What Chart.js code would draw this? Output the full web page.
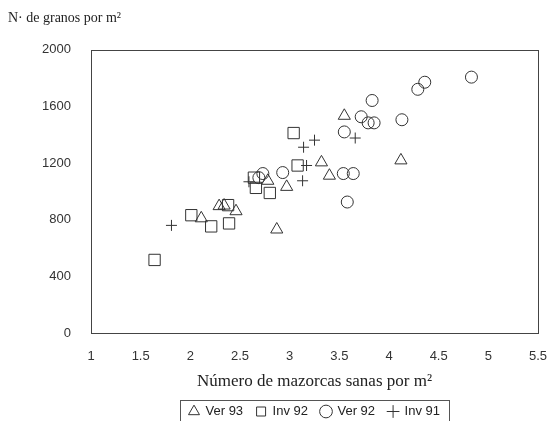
<!DOCTYPE html>
<html>
<head>
<meta charset="utf-8">
<script src="https://cdn.jsdelivr.net/npm/chart.js@4/dist/chart.umd.min.js"></script>
<style>
html,body{margin:0;padding:0;background:#fff;}
#wrap{width:549px;height:421px;}
</style>
</head>
<body>
<div id="wrap"><canvas id="c" width="549" height="421"></canvas></div>
<script>
// Data
const ver93X = [3.55, 4.12, 3.32, 3.40, 2.97, 2.78, 2.29, 2.34, 2.46, 2.87, 2.11];
const ver93Y = [1534, 1219, 1205, 1111, 1032, 1075, 896, 900, 860, 731, 810];

const inv92X = [3.04, 3.08, 2.64, 2.66, 2.80, 2.38, 2.39, 2.21, 2.01, 1.64];
const inv92Y = [1412, 1183, 1097, 1025, 989, 903, 774, 753, 832, 516];

const ver92X = [4.83, 4.36, 4.29, 3.83, 3.72, 3.79, 3.85, 4.13, 3.55, 3.54, 3.64, 3.58, 2.93, 2.73, 2.69];
const ver92Y = [1807, 1771, 1721, 1642, 1527, 1484, 1484, 1506, 1420, 1126, 1126, 925, 1133, 1126, 1097];

const inv91X = [3.25, 3.14, 3.17, 3.13, 3.66, 2.59, 1.81];
const inv91Y = [1362, 1312, 1183, 1075, 1377, 1068, 760];

const seriesNames = ['Ver 93', 'Inv 92', 'Ver 92', 'Inv 91'];
const xTickValues = [1, 1.5, 2, 2.5, 3, 3.5, 4, 4.5, 5, 5.5];
const yTickValues = [0, 400, 800, 1200, 1600, 2000];

const yTitle = 'N\u00b7 de granos por m\u00b2';
const xTitle = 'N\u00famero de mazorcas sanas por m\u00b2';

function pts(xs, ys){ return xs.map((x,i)=>({x:x, y:ys[i]})); }

const ink = '#333';
const styles = [
  {ps:'triangle', r:7},
  {ps:'rect', r:8},
  {ps:'circle', r:6},
  {ps:'cross', r:5.5}
];
const allData = [pts(ver93X,ver93Y), pts(inv92X,inv92Y), pts(ver92X,ver92Y), pts(inv91X,inv91Y)];

const boxPlugin = {
  id:'boxPlugin',
  afterDraw(chart){
    const ctx = chart.ctx, a = chart.chartArea;
    ctx.save();
    ctx.strokeStyle = '#444';
    ctx.lineWidth = 1;
    ctx.strokeRect(Math.round(a.left)+0.5, Math.round(a.top)+0.5, Math.round(a.right-a.left), Math.round(a.bottom-a.top));
    const lg = chart.legend;
    if (lg && lg.legendHitBoxes && lg.legendHitBoxes.length){
      let l=Infinity,r=-Infinity,t=Infinity,b=-Infinity;
      lg.legendHitBoxes.forEach(h=>{l=Math.min(l,h.left);r=Math.max(r,h.left+h.width);t=Math.min(t,h.top);b=Math.max(b,h.top+h.height);});
      ctx.strokeStyle = '#555';
      ctx.strokeRect(Math.round(l-9)+0.5, Math.round(t-5)+0.5, Math.round(r-l+18), Math.round(b-t+14));
    }
    ctx.restore();
  }
};

new Chart(document.getElementById('c'), {
  type:'scatter',
  data:{
    datasets: seriesNames.map((n,i)=>({
      label:n,
      data: allData[i],
      pointStyle: styles[i].ps,
      pointRadius: styles[i].r,
      pointHoverRadius: styles[i].r,
      borderColor: ink,
      backgroundColor: 'rgba(0,0,0,0)',
      pointBorderWidth: 1
    }))
  },
  options:{
    responsive:false,
    animation:false,
    layout:{padding:{left:8, right:0, top:0, bottom:-7}},
    plugins:{
      tooltip:{enabled:false},
      title:{
        display:true, text:yTitle, align:'start', color:'#222',
        font:{family:'Liberation Serif', size:14, weight:'normal'},
        padding:{top:10, bottom:23}
      },
      legend:{
        position:'bottom', fullSize:false,
        labels:{
          usePointStyle:true, boxWidth:10, boxHeight:9, color:'#222', padding:13,
          font:{family:'Liberation Sans', size:13}
        }
      }
    },
    scales:{
      x:{
        type:'linear', min:1, max:5.5,
        afterBuildTicks(s){ s.ticks = xTickValues.map(v=>({value:v})); },
        afterFit(s){ s.height = 59; s.paddingRight = 11; },
        grid:{display:false, drawTicks:false},
        border:{display:false},
        ticks:{color:'#333', padding:16, font:{family:'Liberation Sans', size:13}, maxRotation:0,
          callback:(v)=>String(v)},
        title:{display:true, text:xTitle, color:'#222', font:{family:'Liberation Serif', size:17}, padding:{top:0, bottom:0}}
      },
      y:{
        min:0, max:2000,
        afterBuildTicks(s){ s.ticks = yTickValues.map(v=>({value:v})); },
        afterFit(s){ s.width = 83; },
        grid:{display:false, drawTicks:false},
        border:{display:false},
        ticks:{color:'#333', padding:20, font:{family:'Liberation Sans', size:13}, callback:(v)=>String(v)}
      }
    }
  },
  plugins:[boxPlugin]
});
</script>
</body>
</html>
